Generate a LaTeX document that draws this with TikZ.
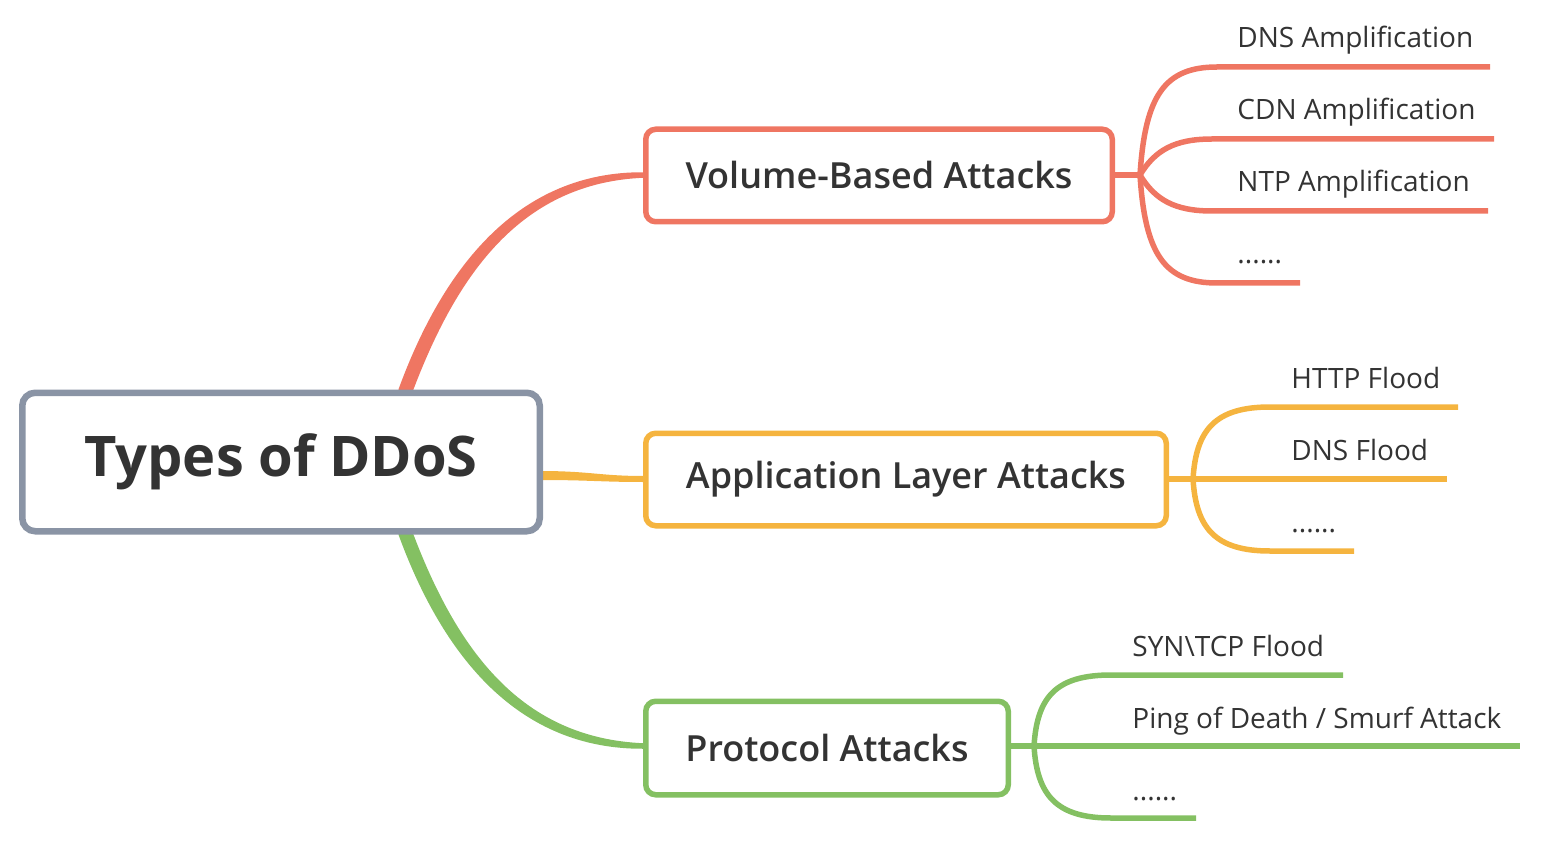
\documentclass[tikz,border=0pt]{standalone}
\usepackage{fontspec}
\setmainfont{Open Sans}
\IfFontExistsTF{Open Sans SemiBold}{\newfontfamily\sbfont{Open Sans SemiBold}}{\IfFontExistsTF{Open Sans Semibold}{\newfontfamily\sbfont{Open Sans Semibold}}{\newfontfamily\sbfont{Open Sans}[FakeBold=1.2]}}
\definecolor{cred}{HTML}{EF7662}
\definecolor{corange}{HTML}{F5B43F}
\definecolor{cgreen}{HTML}{84C062}
\definecolor{cgray}{HTML}{8A94A5}
\definecolor{ctext}{HTML}{333333}
\begin{document}
\begin{tikzpicture}[x=0.5pt,y=-0.5pt,
  rootbox/.style={draw=cgray, line width=3.25pt, rounded corners=6.5pt, fill=white, minimum width=258.75pt, minimum height=69.25pt, inner sep=0pt, text=ctext, font=\fontsize{28}{34}\selectfont\bfseries},
  catbox/.style={line width=2.75pt, rounded corners=5pt, fill=white, minimum height=46.25pt, inner sep=0pt, text=ctext, font=\fontsize{18}{22}\sbfont},
  leaf/.style={anchor=base west, inner sep=0pt, text=ctext, font=\fontsize{14}{17}\selectfont},
  conn/.style={line width=2.75pt}]
\useasboundingbox (0,0) rectangle (1566,844);
% main tapered connectors
\fill[cred] (398.4,389.6) .. controls (443,267.4) and (518.2,171.3) .. (644,172.25) -- (644,177.75) .. controls (521.8,182.7) and (457,272.6) .. (411.6,394.4) -- cycle;
\fill[cgreen] (398.4,534.4) .. controls (443,656.6) and (518.2,749.7) .. (644,748.75) -- (644,743.25) .. controls (521.8,738.3) and (457,651.4) .. (411.6,529.6) -- cycle;
\fill[corange] (540,471) .. controls (590,471) and (600,476) .. (644,476) -- (644,482) .. controls (600,482) and (590,480) .. (540,480) -- cycle;
% nodes
\node[rootbox] (root) at (281,462) {Types of DDoS};
\node[catbox, draw=cred, minimum width=233.25pt] (vol) at (879,175.5) {Volume-Based Attacks};
\node[catbox, draw=corange, minimum width=260.25pt] (app) at (906,479.5) {Application Layer Attacks};
\node[catbox, draw=cgreen, minimum width=181.25pt, minimum height=46.75pt] (pro) at (827,748) {Protocol Attacks};
% junctions and line ends
\coordinate (jv) at (1140,175);
\coordinate (jo) at (1193,479);
\coordinate (jg) at (1034,746);
\coordinate (ev1) at (1490,67);
\coordinate (ev2) at (1494,139);
\coordinate (ev3) at (1488,211);
\coordinate (ev4) at (1300,283);
\coordinate (eo1) at (1458,407);
\coordinate (eo2) at (1447,479);
\coordinate (eo3) at (1354,551);
\coordinate (eg1) at (1343,675);
\coordinate (eg2) at (1520,746);
\coordinate (eg3) at (1196,818);
% red leaves
\draw[conn,cred] (vol.east |- jv) -- (jv);
\draw[conn,cred] (jv) .. controls (1145,95) and (1165,67) .. (1217,67) -- (ev1);
\draw[conn,cred] (jv) .. controls (1155,150) and (1175,139) .. (1212,139) -- (ev2);
\draw[conn,cred] (jv) .. controls (1155,200) and (1175,211) .. (1212,211) -- (ev3);
\draw[conn,cred] (jv) .. controls (1145,255) and (1165,283) .. (1217,283) -- (ev4);
% orange leaves
\draw[conn,corange] (app.east |- jo) -- (jo);
\draw[conn,corange] (jo) .. controls (1196,430) and (1215,407) .. (1270,407) -- (eo1);
\draw[conn,corange] (jo) -- (eo2);
\draw[conn,corange] (jo) .. controls (1196,528) and (1215,551) .. (1270,551) -- (eo3);
% green leaves
\draw[conn,cgreen] (pro.east |- jg) -- (jg);
\draw[conn,cgreen] (jg) .. controls (1037,697) and (1056,675) .. (1111,675) -- (eg1);
\draw[conn,cgreen] (jg) -- (eg2);
\draw[conn,cgreen] (jg) .. controls (1037,795) and (1056,818) .. (1111,818) -- (eg3);
% leaf labels
\node[leaf] (l1) at (1237,48) {DNS Amplification};
\node[leaf] (l2) at (1237,120) {CDN Amplification};
\node[leaf] (l3) at (1237,192) {NTP Amplification};
\node[leaf] (l4) at (1237,264) {......};
\node[leaf] (l5) at (1291,388) {HTTP Flood};
\node[leaf] (l6) at (1291,460) {DNS Flood};
\node[leaf] (l7) at (1291,532) {......};
\node[leaf] (l8) at (1132,656) {SYN\textbackslash TCP Flood};
\node[leaf] (l9) at (1132,728) {Ping of Death / Smurf Attack};
\node[leaf] (l10) at (1132,800) {......};
\end{tikzpicture}
\end{document}
